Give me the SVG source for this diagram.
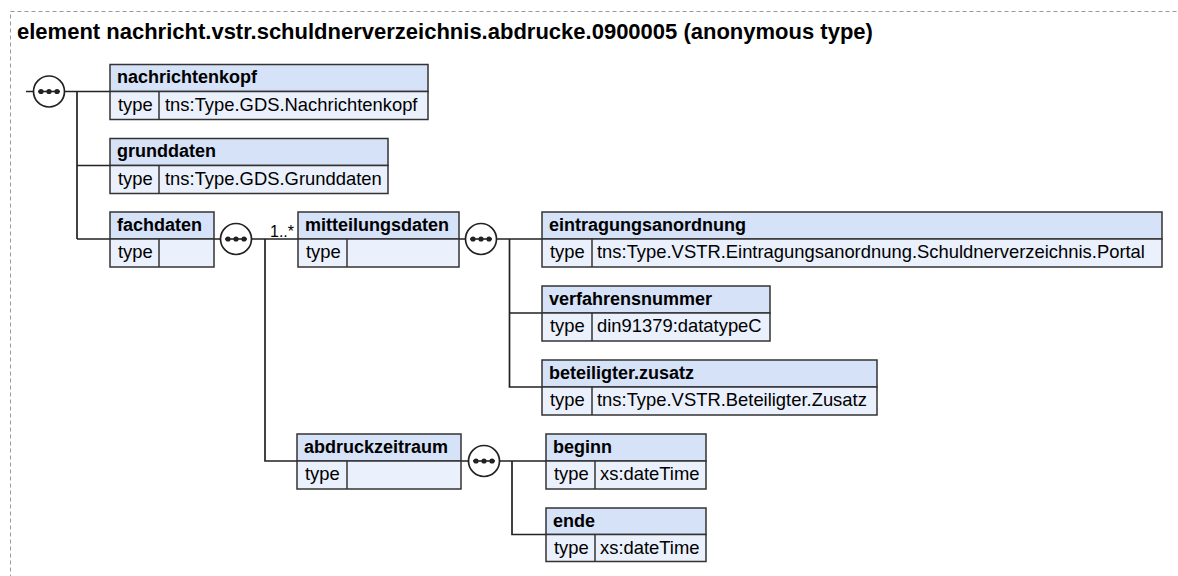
<svg xmlns="http://www.w3.org/2000/svg" width="1178" height="576" viewBox="0 0 1178 576">
<style>
.hd{fill:#d6e2f7;stroke:#333;stroke-width:1.5}
.bd{fill:#eaf1fc;stroke:#333;stroke-width:1.5}
.dv{stroke:#333;stroke-width:1.5}
.nm{font-family:"Liberation Sans",Arial,sans-serif;font-weight:bold;font-size:18px;fill:#000}
.tx{font-family:"Liberation Sans",Arial,sans-serif;font-size:18.4px;fill:#000}
.cn{fill:none;stroke:#222;stroke-width:1.7}
.cc{fill:#fff;stroke:#222;stroke-width:1.7}
.dot{fill:#222}
</style>
<defs>
<g id="seq">
<circle class="cc" cx="0" cy="0" r="15.5"/>
<line x1="-11" y1="0" x2="11" y2="0" stroke="#222" stroke-width="1.6"/>
<circle class="dot" cx="-8" cy="0" r="2.6"/>
<circle class="dot" cx="0" cy="0" r="2.6"/>
<circle class="dot" cx="8" cy="0" r="2.6"/>
</g>
</defs>
<rect x="10.5" y="11.5" width="1200" height="620" fill="none" stroke="#999" stroke-width="1" stroke-dasharray="4,3"/>
<text x="17" y="39" font-family="'Liberation Sans',Arial,sans-serif" font-weight="bold" font-size="22px">element nachricht.vstr.schuldnerverzeichnis.abdrucke.0900005 (anonymous type)</text>

<g id="connectors">
<path class="cn" d="M26 91.5H34 M64.5 91.5H110 M77 91.5V239 M77 165.5H110 M77 239H110"/>
<path class="cn" d="M214 239H220.5 M251.5 239H298 M265 239V461H297"/>
<path class="cn" d="M459 239H465.5 M496.5 239H542 M509.5 239V387H542 M509.5 313H542"/>
<path class="cn" d="M461 461H468.5 M499.5 461H546 M512 461V534.5H546"/>
<text x="270" y="237" font-family="'Liberation Sans',Arial,sans-serif" font-size="16px">1..*</text>
</g>

<g id="seq1"><use href="#seq" x="49" y="91.5"/></g>
<g id="seq2"><use href="#seq" x="236" y="239"/></g>
<g id="seq3"><use href="#seq" x="481" y="239"/></g>
<g id="seq4"><use href="#seq" x="484" y="461"/></g>

<g id="nachrichtenkopf">
<rect class="hd" x="110" y="64.5" width="318" height="27"/>
<rect class="bd" x="110" y="91.5" width="318" height="28"/>
<line class="dv" x1="159" y1="91.5" x2="159" y2="119.5"/>
<text class="nm" x="117" y="83">nachrichtenkopf</text>
<text class="tx" x="118" y="110.5">type</text>
<text class="tx" x="165" y="110.5">tns:Type.GDS.Nachrichtenkopf</text>
</g>

<g id="grunddaten">
<rect class="hd" x="110" y="138.5" width="278" height="27"/>
<rect class="bd" x="110" y="165.5" width="278" height="28"/>
<line class="dv" x1="159" y1="165.5" x2="159" y2="193.5"/>
<text class="nm" x="117" y="157">grunddaten</text>
<text class="tx" x="118" y="184.5">type</text>
<text class="tx" x="165" y="184.5">tns:Type.GDS.Grunddaten</text>
</g>

<g id="fachdaten">
<rect class="hd" x="110" y="212" width="104" height="27"/>
<rect class="bd" x="110" y="239" width="104" height="28"/>
<line class="dv" x1="159" y1="239" x2="159" y2="267"/>
<text class="nm" x="117" y="230.5">fachdaten</text>
<text class="tx" x="118" y="258">type</text>
</g>

<g id="mitteilungsdaten">
<rect class="hd" x="298" y="212" width="161" height="27"/>
<rect class="bd" x="298" y="239" width="161" height="28"/>
<line class="dv" x1="347" y1="239" x2="347" y2="267"/>
<text class="nm" x="305" y="230.5">mitteilungsdaten</text>
<text class="tx" x="306" y="258">type</text>
</g>

<g id="abdruckzeitraum">
<rect class="hd" x="297" y="434" width="164" height="27"/>
<rect class="bd" x="297" y="461" width="164" height="28"/>
<line class="dv" x1="347" y1="461" x2="347" y2="489"/>
<text class="nm" x="304" y="452.5">abdruckzeitraum</text>
<text class="tx" x="305" y="480">type</text>
</g>

<g id="eintragungsanordnung">
<rect class="hd" x="542" y="212" width="620" height="27"/>
<rect class="bd" x="542" y="239" width="620" height="28"/>
<line class="dv" x1="592" y1="239" x2="592" y2="267"/>
<text class="nm" x="549" y="230.5">eintragungsanordnung</text>
<text class="tx" x="550" y="258">type</text>
<text class="tx" x="597" y="258">tns:Type.VSTR.Eintragungsanordnung.Schuldnerverzeichnis.Portal</text>
</g>

<g id="verfahrensnummer">
<rect class="hd" x="542" y="286" width="228" height="27"/>
<rect class="bd" x="542" y="313" width="228" height="28"/>
<line class="dv" x1="592" y1="313" x2="592" y2="341"/>
<text class="nm" x="549" y="304.5">verfahrensnummer</text>
<text class="tx" x="550" y="332">type</text>
<text class="tx" x="597" y="332">din91379:datatypeC</text>
</g>

<g id="beteiligter.zusatz">
<rect class="hd" x="542" y="360" width="335" height="27"/>
<rect class="bd" x="542" y="387" width="335" height="28"/>
<line class="dv" x1="592" y1="387" x2="592" y2="415"/>
<text class="nm" x="549" y="378.5">beteiligter.zusatz</text>
<text class="tx" x="550" y="406">type</text>
<text class="tx" x="597" y="406">tns:Type.VSTR.Beteiligter.Zusatz</text>
</g>

<g id="beginn">
<rect class="hd" x="546" y="434" width="160" height="27"/>
<rect class="bd" x="546" y="461" width="160" height="28"/>
<line class="dv" x1="595" y1="461" x2="595" y2="489"/>
<text class="nm" x="553" y="452.5">beginn</text>
<text class="tx" x="554" y="480">type</text>
<text class="tx" x="600" y="480">xs:dateTime</text>
</g>

<g id="ende">
<rect class="hd" x="546" y="508" width="160" height="26.5"/>
<rect class="bd" x="546" y="534.5" width="160" height="27"/>
<line class="dv" x1="595" y1="534.5" x2="595" y2="561.5"/>
<text class="nm" x="553" y="526.5">ende</text>
<text class="tx" x="554" y="553.5">type</text>
<text class="tx" x="600" y="553.5">xs:dateTime</text>
</g>
</svg>
